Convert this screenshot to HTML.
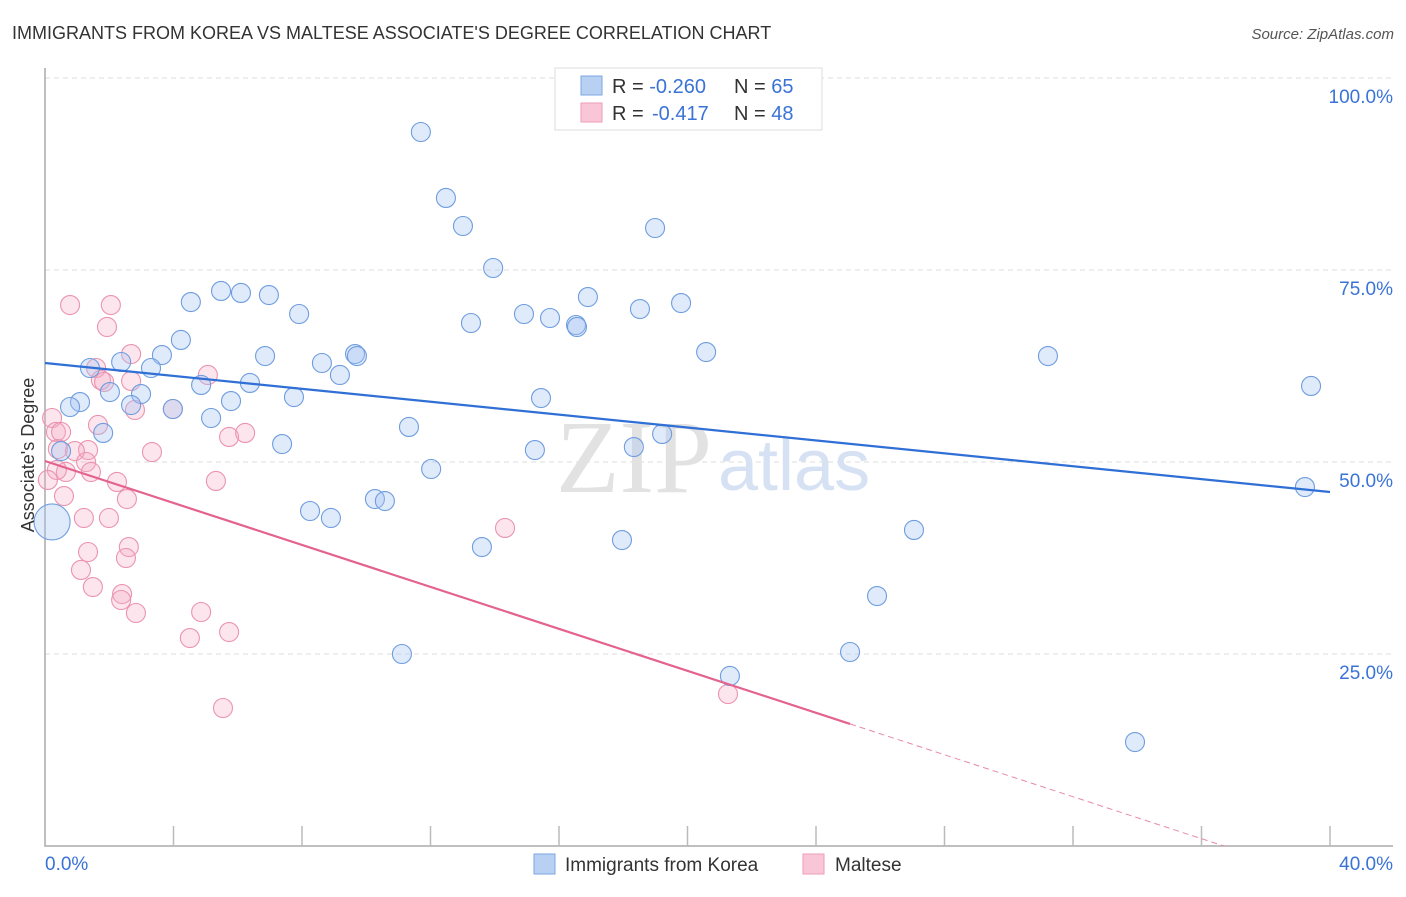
<!DOCTYPE html>
<html><head><meta charset="utf-8"><style>
body{margin:0;background:#fff;font-family:"Liberation Sans",sans-serif;}
svg text{font-family:"Liberation Sans",sans-serif;}
</style></head><body>
<svg id="chart" width="1406" height="892" viewBox="0 0 1406 892">
<text x="12" y="39" font-size="18" fill="#333">IMMIGRANTS FROM KOREA VS MALTESE ASSOCIATE'S DEGREE CORRELATION CHART</text>
<text x="1394" y="39" font-size="15" fill="#555" font-style="italic" text-anchor="end">Source: ZipAtlas.com</text>
<g id="grid"></g>
<text x="712" y="492" font-size="104" fill="#e2e2e2" font-family="Liberation Serif" style="font-family:'Liberation Serif',serif" text-anchor="end">ZIP</text>
<text x="718" y="490" font-size="72" fill="#d6e2f3" text-anchor="start">atlas</text>
<g id="pts"></g>
<g id="lines"></g>
<text x="34" y="455" font-size="18" fill="#333" text-anchor="middle" transform="rotate(-90 34 455)">Associate's Degree</text>
<g>
<rect x="555" y="68" width="267" height="62" fill="#fff" stroke="#ddd"/>
<rect x="581" y="76" width="21" height="19" fill="#b8d1f3" stroke="#7ea6e3"/>
<rect x="581" y="103" width="21" height="19" fill="#f8c6d6" stroke="#ee9db7"/>
<text x="612" y="93" font-size="20" fill="#333">R = <tspan fill="#3a73d6">-0.260</tspan><tspan x="734">N = </tspan><tspan fill="#3a73d6">65</tspan></text>
<text x="612" y="120" font-size="20" fill="#333">R = <tspan x="652" fill="#3a73d6">-0.417</tspan><tspan x="734">N = </tspan><tspan fill="#3a73d6">48</tspan></text>
</g>
<g>
<rect x="534" y="854" width="21" height="20" fill="#b8d1f3" stroke="#7ea6e3"/>
<text x="565" y="871" font-size="19" fill="#333">Immigrants from Korea</text>
<rect x="803" y="854" width="21" height="20" fill="#f8c6d6" stroke="#ee9db7"/>
<text x="835" y="871" font-size="19" fill="#333">Maltese</text>
</g>
</svg>
<script>
const xTicks=[0,40];
const yTicks=[25,50,75,100];
const blueX=[11.70,12.48,13.01,18.99,13.95,5.48,6.10,6.97,4.54,16.90,19.80,7.91,14.91,15.72,13.26,16.53,16.56,18.52,4.23,3.64,6.85,9.65,9.71,8.62,20.58,31.22,2.37,3.30,9.18,1.40,6.38,4.86,39.41,2.02,2.99,7.75,5.79,15.44,1.09,0.78,2.68,3.98,5.17,11.33,1.81,7.38,15.25,18.33,19.21,0.50,12.02,10.27,10.58,8.25,8.90,39.22,27.05,13.60,17.96,25.90,11.11,25.06,21.32,33.93];
const blueY=[92.97,84.38,80.73,80.47,75.26,72.27,72.01,71.74,70.83,71.48,70.70,69.27,69.27,68.75,68.10,67.84,67.58,69.92,65.89,63.93,63.80,64.06,63.80,62.89,64.32,63.80,63.02,62.24,61.33,62.24,60.29,60.03,59.90,59.11,58.85,58.46,57.94,58.33,57.81,57.16,57.42,56.90,55.73,54.56,53.78,52.34,51.56,51.95,53.65,51.43,49.09,45.18,44.92,43.62,42.71,46.74,41.15,38.93,39.84,32.55,25.00,25.26,22.14,13.54];
const bigBlue=[0.22,42.19];
const pinkX=[0.78,2.05,1.93,2.68,1.59,5.07,1.74,2.68,1.84,2.80,3.98,0.22,1.65,5.73,6.23,0.34,0.50,3.33,1.34,0.93,0.40,1.28,0.65,1.43,0.37,0.09,5.32,2.24,0.59,2.55,1.21,1.99,14.32,1.34,2.61,2.52,1.12,1.49,2.40,2.37,2.83,4.86,5.73,4.51,5.54,21.26];
const pinkY=[70.44,70.44,67.58,64.06,62.24,61.33,60.68,60.55,60.42,56.77,56.90,55.73,54.82,53.26,53.78,53.91,53.91,51.30,51.56,51.43,51.69,50.00,48.70,48.70,48.96,47.66,47.53,47.40,45.57,45.18,42.71,42.71,41.41,38.28,38.93,37.50,35.94,33.72,32.81,32.03,30.34,30.47,27.86,27.08,17.97,19.79];
const blueLine=[62.89,-0.42];
const pinkLine=[50.13,-1.366];
const pinkSolidEnd=25.06;
const pinkDashEnd=36.7;
const X=v=>45+v/40*1285, Y=v=>846-v/100*768;
const NS='http://www.w3.org/2000/svg';
function mk(t,a,p){const e=document.createElementNS(NS,t);for(const k in a)e.setAttribute(k,a[k]);p.appendChild(e);return e;}
const grid=document.getElementById('grid');
yTicks.forEach(t=>{const l=mk('line',{x1:45,x2:1393,y1:Y(t),y2:Y(t),stroke:'#ddd','stroke-dasharray':'5,4'},grid);


const tx=mk('text',{x:1393,y:Y(t)+25,'font-size':19,fill:'#3a73d6','text-anchor':'end'},grid);tx.textContent=t.toFixed(1)+'%';

});
const ax=mk('path',{d:'M45 68V846H1393',stroke:'#aaa',fill:'none','stroke-width':1.5},grid);


for(let i=1;i<=10;i++){const t=mk('line',{x1:X(i*4),x2:X(i*4),y1:826,y2:846,stroke:'#bbb','stroke-width':1.5},grid);

}
xTicks.forEach((t,i)=>{const tx=mk('text',{x:i?1393:45,y:870,'font-size':19,fill:'#3a73d6','text-anchor':i?'end':'start'},grid);tx.textContent=t.toFixed(1)+'%';

});
const pts=document.getElementById('pts');
pinkX.forEach((x,i)=>{const c=mk('circle',{cx:X(x),cy:Y(pinkY[i]),r:9.5,fill:'rgba(244,170,195,0.3)',stroke:'#eb94b0','stroke-width':1.1},pts);

});
blueX.forEach((x,i)=>{const c=mk('circle',{cx:X(x),cy:Y(blueY[i]),r:9.5,fill:'rgba(164,196,240,0.35)',stroke:'#6f9de0','stroke-width':1.1},pts);

});
const bb=mk('circle',{cx:X(bigBlue[0]),cy:Y(bigBlue[1]),r:18,fill:'rgba(164,196,240,0.35)',stroke:'#6f9de0','stroke-width':1.1},pts);


const lines=document.getElementById('lines');
const bl=mk('line',{x1:X(0),y1:Y(blueLine[0]),x2:X(40),y2:Y(blueLine[0]+blueLine[1]*40),stroke:'#2f6fd6','stroke-width':2.2},lines);


const pl=mk('line',{x1:X(0),y1:Y(pinkLine[0]),x2:X(pinkSolidEnd),y2:Y(pinkLine[0]+pinkLine[1]*pinkSolidEnd),stroke:'#e4628e','stroke-width':2.2},lines);


const pd=mk('line',{x1:X(pinkSolidEnd),y1:Y(pinkLine[0]+pinkLine[1]*pinkSolidEnd),x2:X(pinkDashEnd),y2:Y(pinkLine[0]+pinkLine[1]*pinkDashEnd),stroke:'#e88aa8','stroke-width':1,'stroke-dasharray':'6,4'},lines);


</script>
</body></html>
